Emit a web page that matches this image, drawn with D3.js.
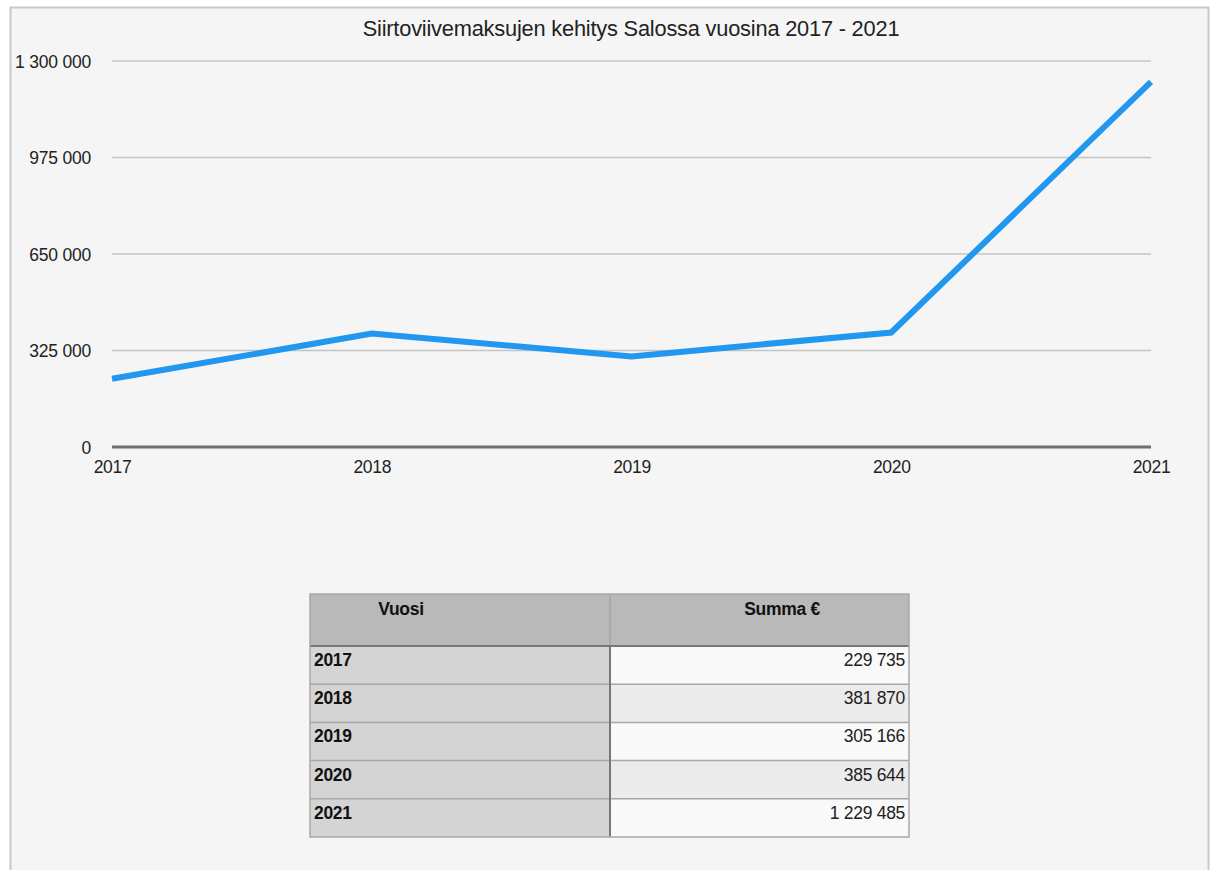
<!DOCTYPE html>
<html><head><meta charset="utf-8">
<script src="https://cdn.jsdelivr.net/npm/d3@7"></script>
<style>body{margin:0;background:#fff;font-family:"Liberation Sans",Arial,sans-serif;}</style>
</head><body>
<svg id="c" width="1216" height="870"></svg>
<script>
const years = ["2017","2018","2019","2020","2021"];
const values = [229735, 381870, 305166, 385644, 1229485];
const yTicks = [0, 325000, 650000, 975000, 1300000];
const valueLabels = ["229 735","381 870","305 166","385 644","1 229 485"];
const title = "Siirtoviivemaksujen kehitys Salossa vuosina 2017 - 2021";
const headers = ["Vuosi","Summa €"];

const FS = 17.5;
const svg = d3.select("#c");
svg.append("rect").attr("x",10.5).attr("y",7.5).attr("width",1198).attr("height",880)
  .attr("fill","#f5f5f5").attr("stroke","#c8c8c8").attr("stroke-width",2);

const x = d3.scalePoint().domain(years).range([112,1151]);
const y = d3.scaleLinear().domain([0,1300000]).range([447,61]);
const fmt = v => d3.format(",")(v).replace(/,/g," ");

svg.append("text").attr("x",631).attr("y",36).attr("text-anchor","middle")
  .attr("font-size",21.8).attr("letter-spacing",-0.2).attr("fill","#222").text(title);

const grid = svg.append("g");
grid.selectAll("line").data(yTicks.filter(d=>d>0)).join("line")
  .attr("x1",112).attr("x2",1151).attr("y1",d=>y(d)).attr("y2",d=>y(d))
  .attr("stroke","#c4c4c4").attr("stroke-width",1.5);
svg.append("line").attr("x1",112).attr("x2",1151).attr("y1",y(0)).attr("y2",y(0))
  .attr("stroke","#6e6e6e").attr("stroke-width",3);

const yAxis = svg.append("g").attr("transform","translate(91,0)")
  .call(d3.axisLeft(y).tickValues(yTicks).tickFormat(fmt).tickSize(0).tickPadding(0));
yAxis.select(".domain").remove();
yAxis.selectAll("text").attr("font-size",FS).attr("fill","#222").attr("letter-spacing",-0.2)
  .attr("font-family","Liberation Sans, Arial, sans-serif").attr("dy","0.35em").attr("x",0);

const xAxis = svg.append("g").attr("transform","translate(0,447)")
  .call(d3.axisBottom(x).tickSize(0).tickPadding(0));
xAxis.select(".domain").remove();
xAxis.selectAll("text").attr("font-size",FS).attr("fill","#222").attr("letter-spacing",-0.3)
  .attr("font-family","Liberation Sans, Arial, sans-serif").attr("y",26).attr("dy",0);

svg.append("path").datum(values)
  .attr("d", d3.line().x((d,i)=>x(years[i])).y(d=>y(d)))
  .attr("fill","none").attr("stroke","#2197f0").attr("stroke-width",6)
  .attr("stroke-linejoin","miter").attr("stroke-linecap","butt");

// table
const tx0 = 310, tx1 = 610, tx2 = 909;
const rowY = d3.scaleBand().domain(years).range([646,837]);
const t = svg.append("g").attr("letter-spacing",-0.3);
t.append("rect").attr("x",tx0).attr("y",594).attr("width",tx2-tx0).attr("height",52).attr("fill","#b8b9b8");
t.append("line").attr("x1",tx1).attr("x2",tx1).attr("y1",594).attr("y2",646).attr("stroke","#9a9a9a").attr("stroke-width",1);
t.append("text").attr("x",401).attr("y",615).attr("text-anchor","middle").attr("font-size",FS).attr("font-weight","bold").attr("fill","#111").text(headers[0]);
t.append("text").attr("x",782).attr("y",615).attr("text-anchor","middle").attr("font-size",FS).attr("font-weight","bold").attr("fill","#111").text(headers[1]);

years.forEach((yr,i)=>{
  const ry = rowY(yr), h = rowY.bandwidth();
  t.append("rect").attr("x",tx0).attr("y",ry).attr("width",tx1-tx0).attr("height",h).attr("fill","#d4d4d4");
  t.append("rect").attr("x",tx1).attr("y",ry).attr("width",tx2-tx1).attr("height",h).attr("fill", i%2===0 ? "#f9f9f9" : "#ebebeb");
  t.append("line").attr("x1",tx0).attr("x2",tx2).attr("y1",ry).attr("y2",ry).attr("stroke","#a8a8a8").attr("stroke-width",1.5);
  t.append("text").attr("x",314).attr("y",ry+20).attr("font-size",FS).attr("font-weight","bold").attr("fill","#111").text(yr);
  t.append("text").attr("x",905).attr("y",ry+20).attr("text-anchor","end").attr("font-size",FS).attr("fill","#222").text(valueLabels[i]);
});
t.append("line").attr("x1",tx0).attr("x2",tx2).attr("y1",646).attr("y2",646).attr("stroke","#777").attr("stroke-width",2);
t.append("line").attr("x1",tx1).attr("x2",tx1).attr("y1",646).attr("y2",837).attr("stroke","#777").attr("stroke-width",2);
t.append("rect").attr("x",tx0).attr("y",594).attr("width",tx2-tx0).attr("height",243).attr("fill","none").attr("stroke","#a8a8a8").attr("stroke-width",1.5);
</script>
</body></html>
